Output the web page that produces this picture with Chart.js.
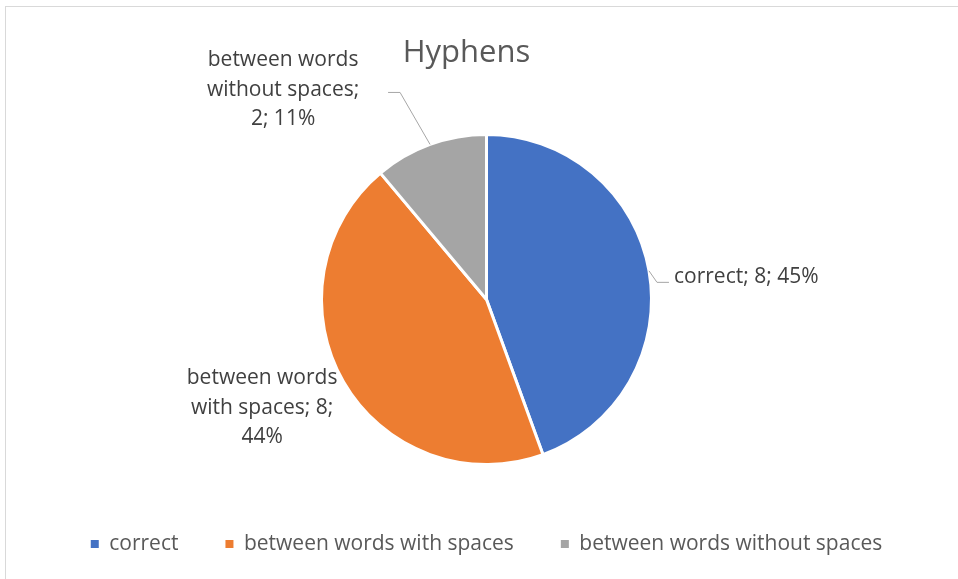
<!DOCTYPE html>
<html>
<head>
<meta charset="utf-8">
<script src="https://cdn.jsdelivr.net/npm/chart.js@4.4.1/dist/chart.umd.min.js"></script>
<style>
  html, body { margin: 0; padding: 0; background: #fff; }
  #wrap { position: relative; width: 958px; height: 579px; overflow: hidden; }
  #frame { position: absolute; left: 5px; top: 6px; width: 960px; height: 580px; border-top: 1px solid #d9d9d9; border-left: 1px solid #d9d9d9; }
  canvas { position: absolute; left: 0; top: 0; }
</style>
</head>
<body>
<div id="wrap">
  <div id="frame"></div>
  <canvas id="pieChart" width="958" height="579"></canvas>
</div>
<script>
// data
const categories = ['correct', 'between words with spaces', 'between words without spaces'];
const counts = [8, 8, 2];
const percentLabels = [45, 44, 11]; // as printed on the chart
const colors = ['#4472C4', '#ED7D31', '#A5A5A5'];
const chartTitle = 'Hyphens';

// label placement, relative to the rim point in the middle of each slice
const labelPlace = [
    { leader: [[8, 11.5], [20, 11.5]], dx: 25, dy: 12, align: 'left', wrap: 1000 },
    { leader: null, dx: -81.5, dy: 2, align: 'center', wrap: 160 },
    { leader: [[-30, -52], [-42, -52]], dx: -147, dy: -78, align: 'center', wrap: 160 }
];

const FONT = '"Open Sans", "Noto Sans", sans-serif';

function wrapText(ctx, text, maxWidth) {
    const words = text.split(' ');
    const lines = [];
    let line = '';
    words.forEach(w => {
        const test = line ? line + ' ' + w : w;
        if (line && ctx.measureText(test).width > maxWidth) {
            lines.push(line);
            line = w;
        } else {
            line = test;
        }
    });
    if (line) lines.push(line);
    return lines;
}

const sliceLabels = {
    id: 'sliceLabels',
    afterDatasetsDraw(chart) {
        const ctx = chart.ctx;
        const meta = chart.getDatasetMeta(0);
        ctx.save();
        ctx.font = '21px ' + FONT;
        ctx.textBaseline = 'alphabetic';
        meta.data.forEach((arc, i) => {
            const p = arc.getProps(['x', 'y', 'startAngle', 'endAngle', 'outerRadius'], true);
            const mid = (p.startAngle + p.endAngle) / 2;
            const ex = p.x + Math.cos(mid) * p.outerRadius;
            const ey = p.y + Math.sin(mid) * p.outerRadius;
            const place = labelPlace[i];
            if (place.leader) {
                ctx.strokeStyle = '#a6a6a6';
                ctx.lineWidth = 1;
                ctx.beginPath();
                ctx.moveTo(ex, ey);
                place.leader.forEach(pt => ctx.lineTo(ex + pt[0], ey + pt[1]));
                ctx.stroke();
            }
            const text = categories[i] + '; ' + counts[i] + '; ' + percentLabels[i] + '%';
            const lines = wrapText(ctx, text, place.wrap);
            ctx.fillStyle = '#404040';
            ctx.textAlign = place.align;
            lines.forEach((ln, k) => {
                ctx.fillText(ln, ex + place.dx, ey + place.dy + k * 29.5);
            });
        });
        ctx.restore();
    }
};

const titlePlugin = {
    id: 'offsetTitle',
    afterDraw(chart) {
        const ctx = chart.ctx;
        const a = chart.chartArea;
        ctx.save();
        ctx.font = '31px ' + FONT;
        ctx.fillStyle = '#595959';
        ctx.textAlign = 'center';
        ctx.textBaseline = 'alphabetic';
        ctx.fillText(chartTitle, (a.left + a.right) / 2 - 20, 62);
        ctx.restore();
    }
};

const pieCtx = document.getElementById('pieChart');
new Chart(pieCtx, {
    type: 'pie',
    data: {
        labels: categories,
        datasets: [{
            data: counts,
            backgroundColor: colors,
            borderColor: '#ffffff',
            borderWidth: 3,
            radius: 165
        }]
    },
    options: {
        responsive: false,
        animation: false,
        events: [],
        layout: { padding: { top: 112.5, bottom: 14.5, left: 15, right: 0 } },
        plugins: {
            title: { display: false },
            tooltip: { enabled: false },
            legend: {
                position: 'bottom',
                labels: {
                    boxWidth: 8,
                    boxHeight: 8,
                    padding: 47,
                    color: '#595959',
                    font: { family: FONT, size: 21 },
                    generateLabels(chart) {
                        const items = Chart.overrides.pie.plugins.legend.labels.generateLabels(chart);
                        items.forEach(it => { it.lineWidth = 0; it.strokeStyle = 'rgba(0,0,0,0)'; });
                        return items;
                    }
                }
            }
        }
    },
    plugins: [sliceLabels, titlePlugin]
});
</script>
</body>
</html>
